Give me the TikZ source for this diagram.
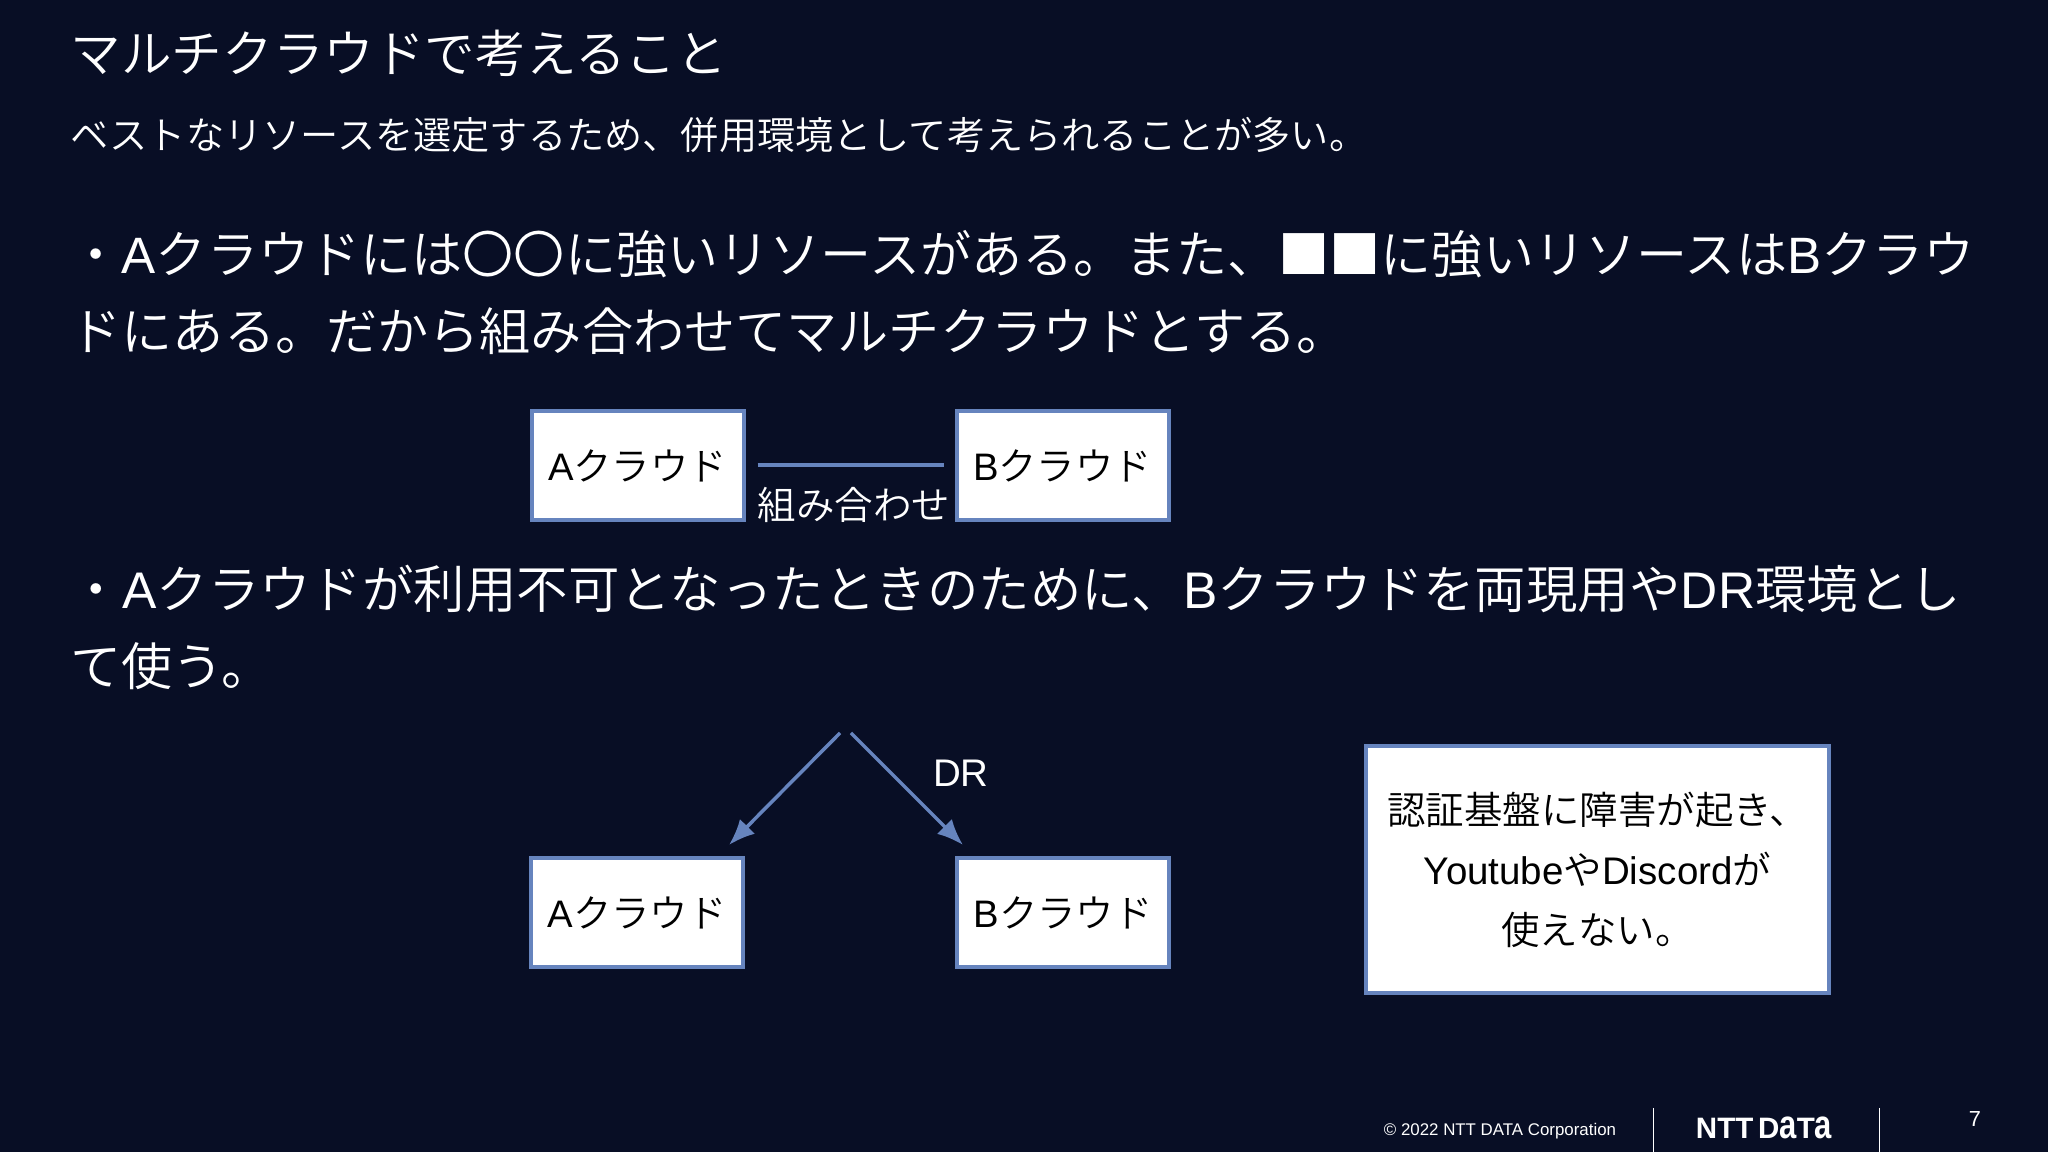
\documentclass[tikz,border=0pt]{standalone}
\usepackage{fontspec}
\usetikzlibrary{arrows.meta}
\setmainfont{Noto Sans CJK JP}[UprightFont=* DemiLight,BoldFont=*]
\newfontfamily\latfont{Liberation Sans}
\newcommand{\lat}[1]{{\latfont #1}}
\newcommand{\tallA}{\scalebox{1.05}[1.36]{a}}
\definecolor{slidebg}{HTML}{080E25}
\definecolor{boxblue}{HTML}{6684BE}
\tikzset{
  headtext/.style={anchor=base west,inner sep=0pt,text=white,font=\fontsize{14.55}{17}\selectfont},
  subtext/.style={anchor=base west,inner sep=0pt,text=white,font=\fontsize{10.87}{13}\selectfont},
  cloudbox/.style={draw=boxblue,fill=white,line width=.04cm,minimum width=2.12cm,minimum height=1.09cm,inner sep=0pt,text=black,font=\fontsize{10.9}{13}\selectfont},
  notebox/.style={draw=boxblue,fill=white,line width=.04cm,minimum width=4.63cm,minimum height=2.47cm,inner sep=0pt,text=black,align=center,font=\fontsize{10.95}{17.07}\selectfont},
  linklabel/.style={inner sep=0pt,text=white,font=\fontsize{10.95}{13}\selectfont},
  footer/.style={inner sep=0pt,text=white,font=\latfont\fontsize{4.8}{6}\selectfont},
  sepline/.style={draw=white,line width=.012cm},
  droarrow/.style={boxblue,line width=.035cm,-{Latex[length=.26cm,width=.21cm]}}
}
\begin{document}
\begin{tikzpicture}
  \fill [slidebg] (0,0) rectangle (20.48,11.52);
  \useasboundingbox (0,0) rectangle (20.48,11.52);
  % heading and text
  \node [headtext,font=\fontsize{14.4}{17}\selectfont] (title) at (.7,10.795) {マルチクラウドで考えること};
  \node [subtext] (lead) at (.7,10.02) {ベストなリソースを選定するため、併用環境として考えられることが多い。};
  \node [headtext] (pointa) at (.7,8.785) {・\lat{A}クラウドには〇〇に強いリソースがある。また、■■に強いリソースは\lat{B}クラウ};
  \node [headtext] (pointb) at (.7,8.015) {ドにある。だから組み合わせてマルチクラウドとする。};
  \node [headtext,font=\fontsize{14.65}{17}\selectfont] (pointc) at (.7,5.435) {・\lat{A}クラウドが利用不可となったときのために、\lat{B}クラウドを両現用や\lat{DR}環境とし};
  \node [headtext] (pointd) at (.7,4.665) {て使う。};
  % first pair
  \node [cloudbox] (cloudA) at (6.375,6.865) {\lat{A}クラウド};
  \node [cloudbox] (cloudB) at (10.625,6.865) {\lat{B}クラウド};
  \draw [boxblue,line width=.04cm,shorten <=.12cm,shorten >=.11cm] (cloudA) -- (cloudB);
  \node [linklabel] (combine) at (8.54,6.47) {組み合わせ};
  % second pair
  \node [cloudbox] (drA) at (6.37,2.39) {\lat{A}クラウド};
  \node [cloudbox] (drB) at (10.63,2.39) {\lat{B}クラウド};
  \coordinate (startA) at (8.40,4.19);
  \coordinate (startB) at (8.51,4.19);
  \coordinate (endA) at (7.29,3.07);
  \coordinate (endB) at (9.63,3.07);
  \draw [droarrow] (startA) -- (endA);
  \draw [droarrow] (startB) -- (endB);
  \node [linklabel] (drlabel) at (9.61,3.79) {\lat{DR}};
  % note
  \node [notebox] (note) at (15.975,2.825) {認証基盤に障害が起き、\\\lat{Youtube}や\lat{Discord}が\\使えない。};
  % footer
  \node [footer] (copy) at (15,.21) {© 2022 NTT DATA Corporation};
  \coordinate (sepa) at (16.535,.44);
  \coordinate (sepb) at (18.795,.44);
  \draw [sepline] (sepa) -- (sepa |- 0,0);
  \draw [sepline] (sepb) -- (sepb |- 0,0);
  \node [inner sep=0pt,text=white,font=\latfont\bfseries\fontsize{8.4}{9}\selectfont] (logo) at (17.64,.24) {NTT\,D\tallA T\tallA};
  \node [inner sep=0pt,text=white,font=\latfont\fontsize{6.2}{7}\selectfont] (page) at (19.75,.33) {7};
\end{tikzpicture}
\end{document}
